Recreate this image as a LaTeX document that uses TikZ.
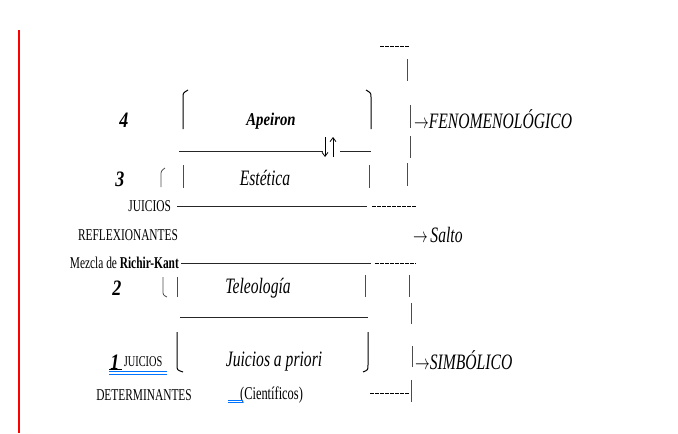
\documentclass[tikz,border=0pt]{standalone}
\usepackage{fontspec}
\setmainfont{Liberation Serif}
\usetikzlibrary{positioning}
\usetikzlibrary{arrows.meta}

\tikzset{
	lbl/.style={inner sep=0pt, xscale=0.71, font=\fontsize{22}{24}\selectfont\itshape},
	boldlbl/.style={inner sep=0pt, xscale=0.82, font=\fontsize{18}{20}\selectfont\bfseries\itshape},
	num/.style={inner sep=0pt, xscale=0.82, font=\fontsize{22}{24}\selectfont\bfseries\itshape},
	small/.style={inner sep=0pt, xscale=0.69, font=\fontsize{16.5}{18}\selectfont},
	bar/.style={black!70, line width=0.8pt},
	rule/.style={black!85, line width=0.8pt},
	hyph/.style={black, line width=1pt, dash pattern=on 3.5pt off 1.5pt},
	brk/.style={black, line width=1pt},
	vtip/.style={-{Straight Barb[length=4pt, width=6pt]}, line width=0.8pt},
	wordline/.style={blue!55!cyan, line width=0.7pt}
}

\begin{document}
\begin{tikzpicture}[x=1pt, y=-1pt]
	\useasboundingbox (0, 0) rectangle (678, 434);

	\draw [red, line width=1.5pt] (19, 30) -- (19, 433);

	% level 4
	\node [num] (n4) at (124, 120) {4};
	\node [boldlbl] (apeiron) at (271, 121) {Apeiron};
	\draw [brk] (183, 129) -- (183, 97) .. controls (183, 93) .. (188, 90);
	\draw [brk] (371, 129) -- (371, 97) .. controls (371, 93) .. (366, 90);
	\draw [rule] (179, 151) -- (323, 151);
	\draw [rule] (340, 151) -- (371, 151);
	\draw [vtip] (325, 137) -- (325, 157);
	\draw [vtip] (333, 157) -- (333, 137);

	% level 3
	\node [num] (n3) at (120, 179) {3};
	\node [lbl] (estetica) at (265, 178) {Estética};
	\draw [bar] (161, 187) -- (161, 176) .. controls (161, 171) .. (165, 168);
	\draw [bar] (183, 165) -- (183, 188);
	\draw [bar] (369, 165) -- (369, 188);

	% reflexionantes
	\node [small, anchor=east] (juicios) at (171, 206) {JUICIOS};
	\draw [rule] (juicios.east) ++(6, 0) -- (367, 206);
	\draw [hyph] (372, 206) -- (417, 206);
	\node [small] (reflex) at (128, 235) {REFLEXIONANTES};
	\node [lbl, anchor=west] (salto) at (413, 235) {$\rightarrow$\,Salto};
	\node [small, anchor=east] (mezcla) at (179, 263) {Mezcla de \textbf{Richir-Kant}};
	\draw [rule] (mezcla.east) ++(2, 0) -- (371, 263);
	\draw [hyph] (375, 263) -- (416, 263);

	% level 2
	\node [num] (n2) at (117, 288) {2};
	\node [lbl] (teleologia) at (258, 288) {Teleología};
	\draw [bar] (163, 277) -- (163, 290) .. controls (163, 295) .. (167, 297);
	\draw [bar] (177, 277) -- (177, 297);
	\draw [bar] (365, 275) -- (365, 297);
	\draw [rule] (180, 317) -- (368, 317);

	% level 1
	\node [num] (n1) at (115, 362) {1};
	\node [small, font=\fontsize{15}{17}\selectfont, right=4pt of n1.east, anchor=west] (juicios1) {JUICIOS};
	\draw [black] (109, 369.5) -- (122, 369.5);
	\draw [wordline] (109, 371.5) -- (167, 371.5);
	\draw [wordline] (109, 374) -- (167, 374);
	\node [lbl] (apriori) at (274, 362) {Juicios a priori};
	\draw [brk] (177, 332) -- (177, 365) .. controls (177, 370) .. (183, 372);
	\draw [brk] (368, 332) -- (368, 365) .. controls (368, 370) .. (363, 372);
	\node [small] (determ) at (144, 395) {DETERMINANTES};
	\node [small, font=\fontsize{18}{20}\selectfont, anchor=west] (cientif) at (240, 395) {(Científicos)};
	\draw [wordline] (228, 400) -- (243, 400);
	\draw [wordline] (228, 402.5) -- (243, 402.5);

	% right column
	\draw [hyph] (380, 46) -- (410, 46);
	\draw [bar] (407, 59) -- (407, 81);
	\draw [bar] (410, 105) -- (410, 128);
	\node [lbl, anchor=west] (fenom) at (414, 119) {$\rightarrow$FENOMENOLÓGICO};
	\draw [bar] (410, 136) -- (410, 158);
	\draw [bar] (407, 163) -- (407, 186);
	\draw [bar] (409, 275) -- (409, 297);
	\draw [bar] (411, 303) -- (411, 324);
	\draw [bar] (412, 346) -- (412, 367);
	\node [lbl, anchor=west] (simb) at (415, 360) {$\rightarrow$SIMBÓLICO};
	\draw [hyph] (370, 393) -- (410, 393);
	\draw [bar] (411, 380) -- (411, 402);
\end{tikzpicture}
\end{document}
